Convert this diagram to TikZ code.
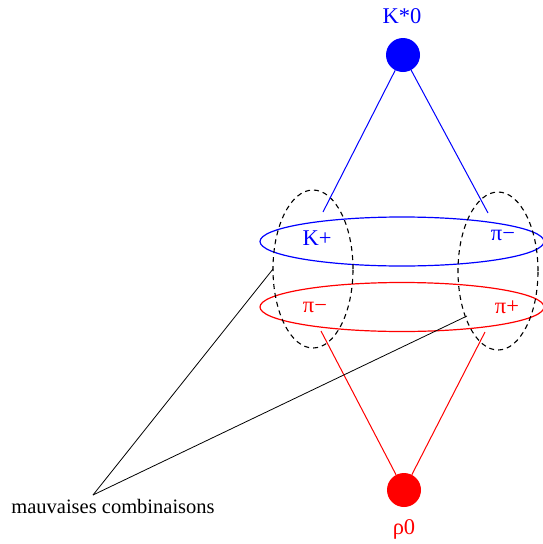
\documentclass[tikz,border=0pt]{standalone}
\usepackage{fontspec}
\setmainfont{Liberation Serif}
\usetikzlibrary{shapes.geometric}
\begin{document}
\begin{tikzpicture}[x=1pt,y=-1pt,
  lbl/.style={font=\fontsize{22.5}{26}\selectfont, inner sep=0pt},
  note/.style={font=\fontsize{20.5}{24}\selectfont, inner sep=0pt},
  dot/.style={circle, inner sep=0pt, minimum size=34pt},
  ring/.style={ellipse, draw, line width=1.2pt, inner sep=0pt, minimum width=284pt, minimum height=49pt},
  pair/.style={ellipse, draw=black, dash pattern=on 5pt off 4pt, line width=1.1pt, inner sep=0pt, minimum width=80pt, minimum height=158pt},
  link/.style={line width=1pt}]
\useasboundingbox (0,0) rectangle (542,544);
% rings
\node[ring, draw=blue] (bring) at (402,241.5) {};
\node[ring, draw=red] (rring) at (402,307) {};
% combination ellipses
\node[pair] (lpair) at (313,269) {};
\node[pair] (rpair) at (498,271) {};
% particles
\node[dot, fill=blue] (kstar) at (403,55) {};
\node[dot, fill=red] (rho) at (404,490) {};
\node[lbl, text=blue] (kstarl) at (402,16) {K*0};
\node[lbl, text=red] (rhol) at (404,529) {ρ0};
\node[lbl, text=blue] (kp) at (317,238) {K+};
\node[lbl, text=blue] (pimb) at (503,235) {π−};
\node[lbl, text=red] (pimr) at (315,307) {π−};
\node[lbl, text=red] (pip) at (507,307) {π+};
% connector ends
\coordinate (kpe) at (323,212);
\coordinate (pimbe) at (488,213);
\coordinate (pimre) at (321,331);
\coordinate (pipe) at (485,332);
\draw[link, blue] (kstar) -- (kpe);
\draw[link, blue] (kstar) -- (pimbe);
\draw[link, red] (rho) -- (pimre);
\draw[link, red] (rho) -- (pipe);
% annotation
\node[note] (mc) at (113,506) {mauvaises combinaisons};
\coordinate (apex) at (93,495);
\coordinate (le) at (273,269);
\coordinate (re) at (467,316);
\draw[line width=0.8pt] (apex) -- (le);
\draw[line width=0.8pt] (apex) -- (re);
\end{tikzpicture}
\end{document}
